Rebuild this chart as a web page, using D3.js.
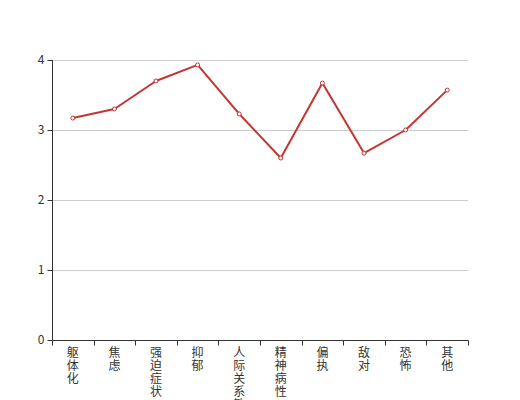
<!DOCTYPE html>
<html><head><meta charset="utf-8">
<script src="https://cdn.jsdelivr.net/npm/d3@7/dist/d3.min.js"></script>
<style>body{margin:0;background:#fff}svg{display:block}</style>
</head><body>
<svg id="c" width="520" height="400"></svg>
<script>
const categories = ["躯体化","焦虑","强迫症状","抑郁","人际关系敏感","精神病性","偏执","敌对","恐怖","其他"];
const values = [3.17, 3.30, 3.70, 3.93, 3.23, 2.60, 3.67, 2.67, 3.00, 3.57];
const yTicks = [0, 1, 2, 3, 4];

(function () {
const svg = d3.select("#c");
const mLeft = 52, mRight = 468, mTop = 60, mBottom = 340;
const font = "'Noto Sans CJK SC', sans-serif";

const x = d3.scaleBand().domain(categories).range([mLeft, mRight]);
const y = d3.scaleLinear().domain([0, 4]).range([mBottom, mTop]);

// grid
svg.append("g").selectAll("line").data(yTicks.filter(d => d > 0)).join("line")
  .attr("x1", mLeft).attr("x2", mRight)
  .attr("y1", d => Math.round(y(d)) + 0.5).attr("y2", d => Math.round(y(d)) + 0.5)
  .attr("stroke", "#ccc").attr("stroke-width", 1);

// y axis
const ya = svg.append("g").attr("transform", `translate(${mLeft + 0.5},0)`)
  .call(d3.axisLeft(y).tickValues(yTicks).tickSize(5).tickPadding(3).tickFormat(d3.format("d")));
ya.select(".domain").attr("stroke", "#333").attr("d", `M0,${mTop}V${mBottom + 0.5}`);
ya.selectAll(".tick line").attr("stroke", "#333");
ya.selectAll(".tick text").attr("fill", "#333").style("font-family", font).style("font-size", "12px");

// x axis
const xa = svg.append("g").attr("transform", `translate(0,${mBottom + 0.5})`);
xa.append("line").attr("x1", mLeft).attr("x2", mRight + 0.5).attr("stroke", "#333");
const bounds = categories.map(c => x(c)).concat([mRight]);
xa.selectAll("line.tk").data(bounds).join("line").attr("class", "tk")
  .attr("x1", d => Math.round(d) + 0.5).attr("x2", d => Math.round(d) + 0.5)
  .attr("y1", 0).attr("y2", 5).attr("stroke", "#333");
const lbl = xa.selectAll("text").data(categories).join("text")
  .attr("fill", "#333").style("font-family", font).style("font-size", "12px")
  .attr("text-anchor", "middle");
lbl.each(function (c) {
  const t = d3.select(this);
  const cx = x(c) + x.bandwidth() / 2;
  Array.from(c).forEach((ch, i) => {
    t.append("tspan").attr("x", cx).attr("y", 16 + i * 13).text(ch);
  });
});

// line
const line = d3.line().x((d, i) => x(categories[i]) + x.bandwidth() / 2).y(d => y(d));
svg.append("path").datum(values).attr("d", line)
  .attr("fill", "none").attr("stroke", "#c23531").attr("stroke-width", 2).attr("stroke-linejoin", "round");
svg.append("g").selectAll("circle").data(values).join("circle")
  .attr("cx", (d, i) => x(categories[i]) + x.bandwidth() / 2).attr("cy", d => y(d))
  .attr("r", 2).attr("fill", "#fff").attr("stroke", "#c23531").attr("stroke-width", 1);
})();
</script>
</body></html>
